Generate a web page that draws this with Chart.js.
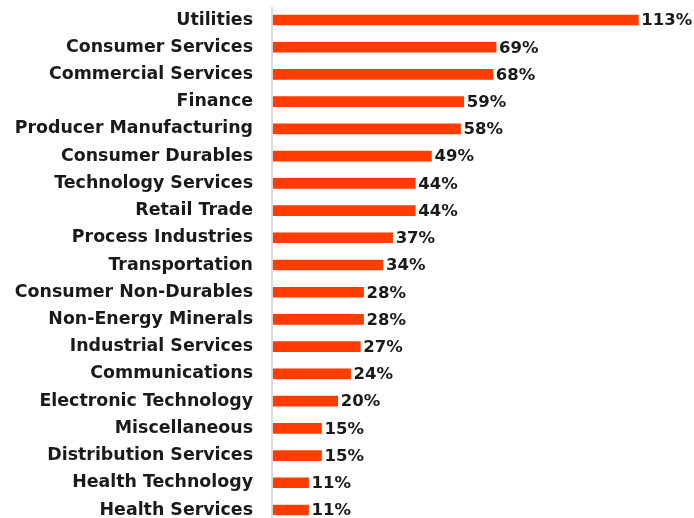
<!DOCTYPE html>
<html>
<head>
<meta charset="utf-8">
<script src="https://cdn.jsdelivr.net/npm/chart.js@4.4.1/dist/chart.umd.min.js"></script>
<style>
  html, body { margin: 0; padding: 0; background: #fff; }
  #wrap { width: 694px; height: 518px; position: relative; }
</style>
</head>
<body>
<div id="wrap"><canvas id="c"></canvas></div>
<script>
var sectors = ['Utilities', 'Consumer Services', 'Commercial Services', 'Finance', 'Producer Manufacturing',
  'Consumer Durables', 'Technology Services', 'Retail Trade', 'Process Industries', 'Transportation',
  'Consumer Non-Durables', 'Non-Energy Minerals', 'Industrial Services', 'Communications',
  'Electronic Technology', 'Miscellaneous', 'Distribution Services', 'Health Technology', 'Health Services'];
var growth = [113, 69, 68, 59, 58, 49, 44, 44, 37, 34, 28, 28, 27, 24, 20, 15, 15, 11, 11];

var FONT = '"DejaVu Sans", sans-serif';

// value labels at bar ends + the vertical axis line
var endLabels = {
  id: 'endLabels',
  afterDatasetsDraw: function (chart) {
    var ctx = chart.ctx;
    var meta = chart.getDatasetMeta(0);
    var area = chart.chartArea;
    ctx.save();
    ctx.strokeStyle = '#d0d0d0';
    ctx.lineWidth = 1.5;
    ctx.beginPath();
    ctx.moveTo(area.left - 1, 7);
    ctx.lineTo(area.left - 1, 518);
    ctx.stroke();
    ctx.fillStyle = '#1a1a1a';
    ctx.font = 'bold 16.5px ' + FONT;
    ctx.textBaseline = 'middle';
    ctx.textAlign = 'left';
    meta.data.forEach(function (bar, i) {
      ctx.fillText(growth[i] + '%', bar.x + 3, bar.y + 1);
    });
    ctx.restore();
  }
};

new Chart(document.getElementById('c').getContext('2d'), {
  type: 'bar',
  data: {
    labels: sectors,
    datasets: [{
      data: growth,
      backgroundColor: '#ff3d00',
      barThickness: 10,
      borderWidth: 0,
      clip: false
    }]
  },
  options: {
    indexAxis: 'y',
    responsive: true,
    maintainAspectRatio: false,
    animation: false,
    layout: { padding: { top: 20, bottom: 8, right: 33, left: 0 } },
    plugins: { legend: { display: false }, tooltip: { enabled: false } },
    scales: {
      x: { min: 0, max: 120, display: false },
      y: {
        offset: false,
        grid: { display: false, drawTicks: false },
        border: { display: false },
        afterFit: function (scale) {
          scale.width = 273;
          scale.paddingTop = 0;
          scale.paddingBottom = 0;
        },
        ticks: {
          color: '#1a1a1a',
          padding: 20,
          font: { family: FONT, size: 17.4, weight: 'bold' }
        }
      }
    }
  },
  plugins: [endLabels]
});
</script>
</body>
</html>
